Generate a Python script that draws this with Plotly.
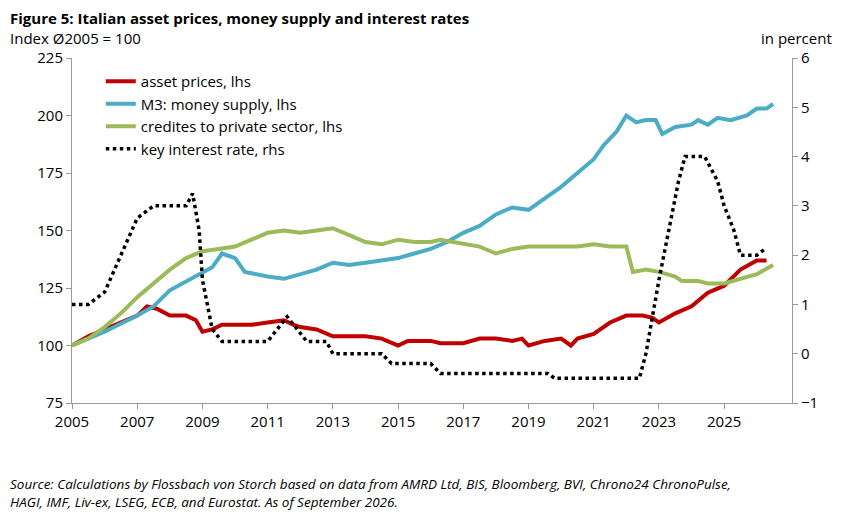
import plotly.graph_objects as go

ax_x = [2005,2005.5,2006,2006.5,2007,2007.3,2007.6,2008,2008.5,2008.8,2009,2009.3,2009.6,2010,2010.5,2011,2011.5,2011.8,2012,2012.5,2013,2013.5,2014,2014.5,2015,2015.3,2016,2016.3,2017,2017.5,2018,2018.5,2018.8,2019,2019.5,2020,2020.3,2020.5,2021,2021.5,2022,2022.5,2022.8,2023,2023.5,2024,2024.5,2025,2025.5,2026,2026.3]
asset = [100,104,107,110,113,117,116,113,113,111,106,107,109,109,109,110,111,109,108,107,104,104,104,103,100,102,102,101,101,103,103,102,103,100,102,103,100,103,105,110,113,113,112,110,114,117,123,126,133,137,137]

m3_x = [2005,2006,2007,2007.5,2008,2008.5,2009,2009.3,2009.6,2010,2010.3,2010.6,2011,2011.5,2012,2012.5,2013,2013.5,2014,2014.5,2015,2015.5,2016,2016.5,2017,2017.5,2018,2018.5,2019,2019.5,2020,2020.5,2021,2021.3,2021.7,2022,2022.3,2022.6,2022.9,2023.1,2023.5,2024,2024.2,2024.5,2024.8,2025.2,2025.7,2026,2026.3,2026.5]
m3 = [100,106,113,117,124,128,132,134,140,138,132,131,130,129,131,133,136,135,136,137,138,140,142,145,149,152,157,160,159,164,169,175,181,187,193,200,197,198,198,192,195,196,198,196,199,198,200,203,203,205]

cr_x = [2005,2005.5,2006,2006.5,2007,2007.5,2008,2008.5,2009,2009.5,2010,2010.5,2011,2011.5,2012,2012.5,2013,2013.5,2014,2014.5,2015,2015.5,2016,2016.3,2017,2017.5,2018,2018.5,2019,2019.5,2020,2020.5,2021,2021.5,2022,2022.2,2022.6,2023,2023.5,2023.7,2024.2,2024.5,2025,2025.5,2026,2026.5]
credit = [100,103,108,114,121,127,133,138,141,142,143,146,149,150,149,150,151,148,145,144,146,145,145,146,144,143,140,142,143,143,143,143,144,143,143,132,133,132,130,128,128,127,127,129,131,135]

ir_x = [2005,2005.5,2006,2006.5,2007,2007.5,2008,2008.5,2008.7,2008.9,2009,2009.3,2009.6,2011,2011.3,2011.6,2011.9,2012.2,2012.8,2013,2014.5,2014.8,2016,2016.3,2019.6,2019.8,2022.4,2022.6,2022.8,2023,2023.3,2023.6,2023.8,2024.4,2024.6,2024.8,2025,2025.3,2025.5,2026,2026.3]
rate = [1,1,1.25,2,2.75,3,3,3,3.25,2.5,1.5,0.5,0.25,0.25,0.5,0.75,0.5,0.25,0.25,0,0,-0.2,-0.2,-0.4,-0.4,-0.5,-0.5,0,0.75,1.5,2.5,3.5,4,4,3.75,3.5,3,2.5,2,2,2.15]

fig = go.Figure()
fig.add_trace(go.Scatter(x=ax_x, y=asset, name="asset prices, lhs", line=dict(color="#C00000", width=4)))
fig.add_trace(go.Scatter(x=m3_x, y=m3, name="M3: money supply, lhs", line=dict(color="#4BACC6", width=4)))
fig.add_trace(go.Scatter(x=cr_x, y=credit, name="credites to private sector, lhs", line=dict(color="#9BBB59", width=4)))
fig.add_trace(go.Scatter(x=ir_x, y=rate, name="key interest rate, rhs", yaxis="y2", line=dict(color="black", width=3.5, dash="dot")))

F = "Open Sans"
fig.update_layout(
    width=844, height=526, margin=dict(l=64, r=60, t=50, b=131),
    plot_bgcolor="white", paper_bgcolor="white",
    font=dict(family=F, size=15, color="black"),
    xaxis=dict(range=[2005, 2027.08], tickvals=list(range(2005, 2027, 2)), showgrid=False,
               showline=True, linecolor="#999", ticks="outside", tickcolor="#999"),
    yaxis=dict(range=[75, 225], dtick=25, showgrid=False, showline=True, linecolor="#999",
               ticks="outside", tickcolor="#999", zeroline=False),
    yaxis2=dict(range=[-1, 6], dtick=1, overlaying="y", side="right", showgrid=False,
                showline=True, linecolor="#999", ticks="outside", tickcolor="#999", zeroline=False),
    legend=dict(x=0.04, y=0.98, bgcolor="rgba(0,0,0,0)", font=dict(size=15), tracegroupgap=4),
    showlegend=True,
)
fig.add_annotation(x=0, y=1, xref="paper", yref="paper", xanchor="left", yanchor="bottom", showarrow=False,
                   xshift=-64, yshift=28, text="<b>Figure 5: Italian asset prices, money supply and interest rates</b>", font=dict(size=15))
fig.add_annotation(x=0, y=1, xref="paper", yref="paper", xanchor="left", yanchor="bottom", showarrow=False,
                   xshift=-64, yshift=8, text="Index Ø2005 = 100", font=dict(size=15))
fig.add_annotation(x=1, y=1, xref="paper", yref="paper", xanchor="right", yanchor="bottom", showarrow=False,
                   xshift=42, yshift=8, text="in percent", font=dict(size=15))
fig.add_annotation(x=0, y=0, xref="paper", yref="paper", xanchor="left", yanchor="top", showarrow=False, align="left",
                   xshift=-64, yshift=-70,
                   text="<i>Source: Calculations by Flossbach von Storch based on data from AMRD Ltd, BIS, Bloomberg, BVI, Chrono24 ChronoPulse,<br>HAGI, IMF, Liv-ex, LSEG, ECB, and Eurostat. As of September 2026.</i>",
                   font=dict(size=13.5))
fig.write_html("out.html")
